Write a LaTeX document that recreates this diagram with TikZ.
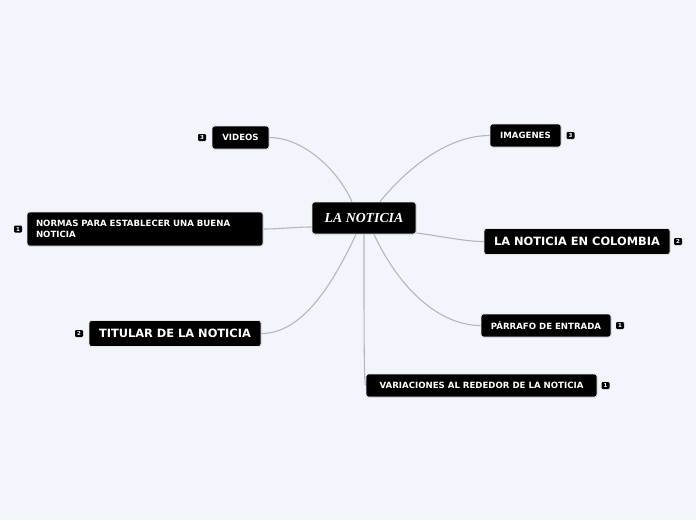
\documentclass[tikz,border=0pt]{standalone}
\usepackage{fontspec}
\setmainfont{DejaVu Sans}[BoldFont=DejaVu Sans Bold]
\newfontfamily\serifbi{Liberation Serif}
\usetikzlibrary{calc}
\definecolor{bg}{HTML}{F3F5FD}
\definecolor{edge}{HTML}{B4B6C0}
\begin{document}
\begin{tikzpicture}[x=1pt,y=-1pt,
  topic/.style={fill=black,draw=white!80!gray,line width=0.8pt,rounded corners=2.5pt,text=white,font=\bfseries\fontsize{8.6}{10}\selectfont,inner sep=0pt,minimum height=23pt,align=center},
  bigtopic/.style={topic,font=\bfseries\fontsize{11.4}{13}\selectfont,minimum height=26pt},
  badge/.style={fill=black,rounded corners=1.2pt,text=white,font=\bfseries\fontsize{5.5}{5.5}\selectfont,inner sep=0pt,minimum width=8pt,minimum height=7pt},
  conn/.style={draw=edge,line width=1.1pt}]
\fill[bg] (0,0) rectangle (696,520);
\useasboundingbox (0,0) rectangle (696,520);

\node[topic,minimum width=104pt,minimum height=32pt,font=\serifbi\bfseries\itshape\fontsize{13.8}{15}\selectfont] (c) at (364,218) {LA NOTICIA};

\node[topic,minimum width=57pt] (vid) at (240.5,137.5) {VIDEOS};
\node[badge] (bvid) at (202,137.5) {3};
\node[topic,minimum width=71pt] (img) at (525.5,135.5) {IMAGENES};
\node[badge] (bimg) at (570.5,135.5) {3};
\node[topic,minimum width=236pt,minimum height=34pt,text width=218pt,align=left,font=\bfseries\fontsize{8.6}{11.5}\selectfont] (nor) at (145,229) {NORMAS PARA ESTABLECER UNA BUENA\\NOTICIA};
\node[badge] (bnor) at (18,229) {1};
\node[bigtopic,minimum width=186pt] (col) at (577,241.5) {LA NOTICIA EN COLOMBIA};
\node[badge] (bcol) at (678,241.5) {2};
\node[bigtopic,minimum width=172pt] (tit) at (175,333.5) {TITULAR DE LA NOTICIA};
\node[badge] (btit) at (79,333.5) {2};
\node[topic,minimum width=130pt] (par) at (546,325.5) {PÁRRAFO DE ENTRADA};
\node[badge] (bpar) at (620,325.5) {1};
\node[topic,minimum width=231pt] (var) at (481.5,385.5) {VARIACIONES AL REDEDOR DE LA NOTICIA};
\node[badge] (bvar) at (605.5,385.5) {1};

\path[conn] ($(c.north)+(-12,0)$) .. controls (335,165) and (300,137.5) .. (vid.east);
\path[conn] ($(c.north)+(16,0)$) .. controls (410,165) and (450,135.5) .. (img.west);
\path[conn] ($(c.west)+(0,9)$) .. controls (295,227) and (280,229) .. (nor.east);
\path[conn] ($(c.east)+(0,15)$) .. controls (440,236) and (465,241.5) .. (col.west);
\path[conn] ($(c.south)+(-8,0)$) .. controls (330,290) and (300,333.5) .. (tit.east);
\path[conn] ($(c.south)+(10,0)$) .. controls (400,290) and (440,325.5) .. (par.west);
\path[conn] (c.south) .. controls (364,330) and (364,385.5) .. (var.west);
\end{tikzpicture}
\end{document}
